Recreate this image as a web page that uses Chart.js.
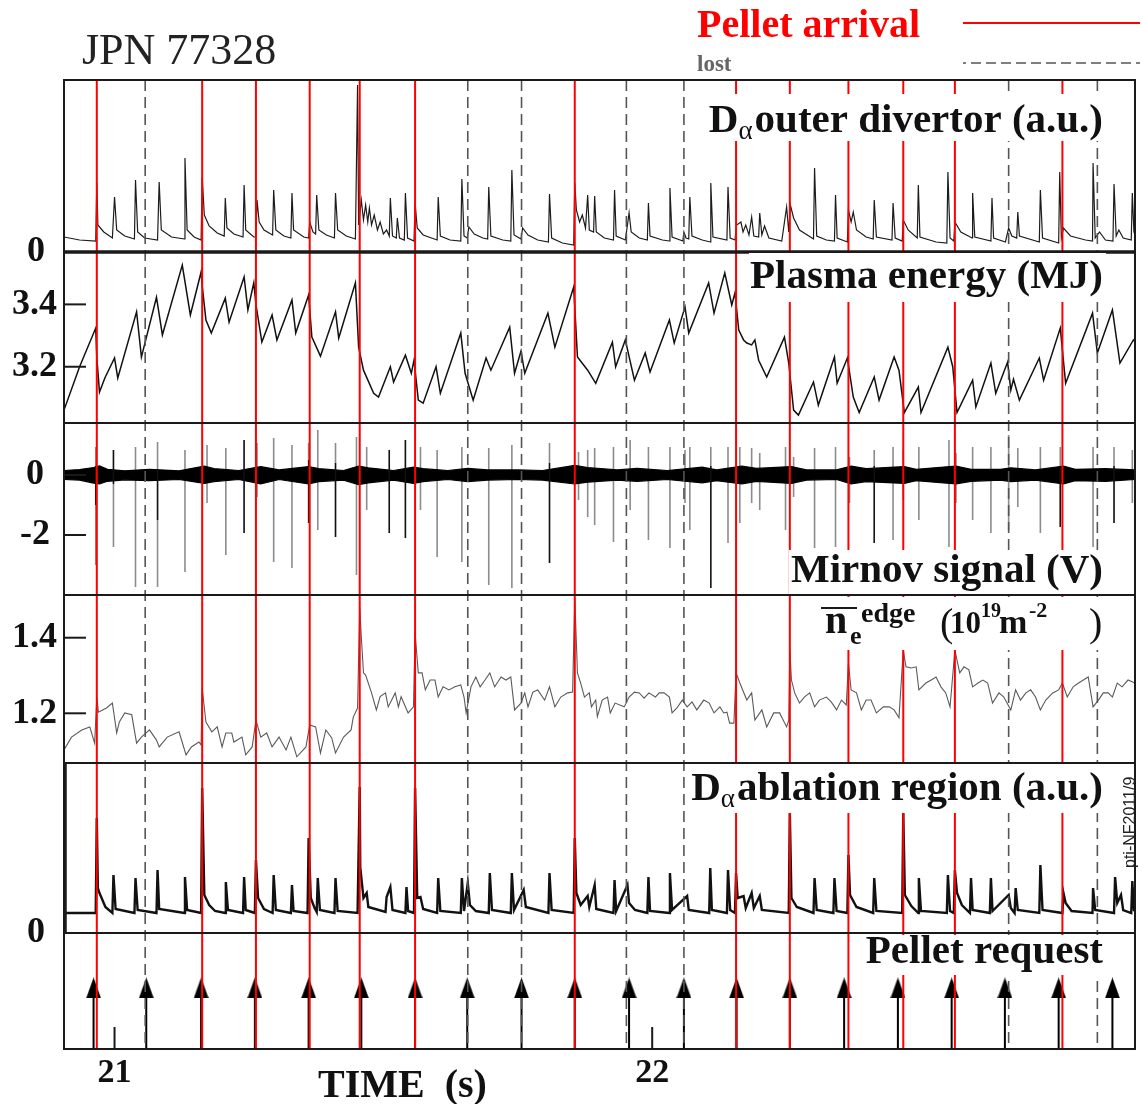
<!DOCTYPE html>
<html>
<head>
<meta charset="utf-8">
<title>JPN 77328 pellet ELM pacing</title>
<script src="https://cdn.jsdelivr.net/npm/chart.js@4.4.1/dist/chart.umd.min.js"></script>
<style>
  html, body { margin: 0; padding: 0; background: #fff; }
  #wrap { position: relative; width: 1142px; height: 1104px; }
</style>
</head>
<body>
<div id="wrap"><canvas id="shot"></canvas></div>
<script>
// time axis (s)
var timeRange = [20.906, 22.898];
var timeTicks = [21, 22];

// pellet timing (s)
var pelletRequest = [20.961, 21.059, 21.161, 21.261, 21.361, 21.459, 21.559, 21.656, 21.757, 21.856,
                     21.957, 22.059, 22.157, 22.256, 22.357, 22.457, 22.557, 22.656, 22.756, 22.856];
var pelletArrived = [20.967, 21.163, 21.263, 21.363, 21.456, 21.559, 21.856, 22.156, 22.256, 22.365, 22.467, 22.563, 22.763];
var pelletLost = [21.057, 21.657, 21.757, 21.952, 22.059, 22.663, 22.828];

// D-alpha outer divertor (a.u.)  [t, value]
var divertorSignal = [
  [20.906,1.5],[20.935,1.2],[20.965,1.1],[20.967,6.9],[20.969,2.7],[20.980,2.0],[20.996,1.4],
  [21.000,5.5],[21.004,2.2],[21.019,1.6],[21.037,1.3],[21.039,7.2],[21.043,2.0],[21.056,1.4],[21.080,1.2],
  [21.083,7.0],[21.087,2.2],[21.106,1.5],[21.130,1.3],[21.131,9.4],[21.135,2.2],[21.148,1.5],[21.161,1.2],
  [21.163,7.5],[21.167,3.7],[21.176,2.6],[21.191,1.9],[21.204,1.6],[21.206,5.4],[21.209,2.4],[21.222,1.8],[21.239,1.5],
  [21.241,6.7],[21.244,2.2],[21.259,1.5],[21.263,1.5],[21.265,5.2],[21.269,3.0],[21.278,2.2],[21.294,1.7],
  [21.296,6.2],[21.300,2.2],[21.315,1.6],[21.328,1.4],[21.330,5.9],[21.333,2.2],[21.352,1.5],[21.361,1.4],
  [21.363,3.0],[21.369,2.0],[21.374,1.8],[21.376,5.7],[21.380,2.2],[21.394,1.7],[21.409,1.4],
  [21.411,5.9],[21.415,2.2],[21.431,1.6],[21.448,1.3],[21.452,16.7],[21.454,2.7],[21.459,5.2],[21.463,3.2],
  [21.467,4.7],[21.471,3.0],[21.474,4.4],[21.478,2.7],[21.483,3.7],[21.489,2.2],[21.494,3.0],[21.500,1.8],
  [21.506,2.2],[21.511,1.6],[21.513,5.4],[21.517,1.6],[21.524,1.4],[21.526,3.4],[21.530,1.4],[21.539,1.2],
  [21.541,5.9],[21.545,1.4],[21.557,1.1],[21.559,4.9],[21.563,2.4],[21.574,1.7],[21.600,1.2],
  [21.602,5.5],[21.606,1.6],[21.624,1.2],[21.644,1.1],[21.646,7.3],[21.650,1.6],[21.656,1.4],[21.659,2.5],
  [21.669,1.8],[21.685,1.4],[21.694,1.3],[21.696,6.5],[21.700,1.6],[21.722,1.2],[21.737,1.1],
  [21.739,8.2],[21.743,1.7],[21.756,1.3],[21.759,2.4],[21.769,1.7],[21.787,1.2],[21.807,1.0],
  [21.809,5.8],[21.813,1.4],[21.833,0.9],[21.854,0.7],[21.856,6.9],[21.859,4.2],[21.865,3.0],[21.870,3.7],[21.876,2.4],
  [21.880,5.7],[21.883,2.2],[21.891,2.0],[21.893,5.6],[21.896,2.0],[21.911,1.4],[21.928,1.2],
  [21.930,6.2],[21.933,1.6],[21.950,1.2],[21.954,2.7],[21.957,3.9],[21.961,2.0],[21.976,1.4],[21.991,1.2],
  [21.993,4.9],[21.996,1.6],[22.019,1.2],[22.032,1.1],[22.033,6.4],[22.037,1.5],[22.057,1.1],[22.059,2.0],
  [22.063,1.4],[22.068,1.3],[22.070,5.5],[22.074,1.6],[22.093,1.2],[22.108,1.0],[22.109,6.9],[22.113,1.5],[22.139,1.2],
  [22.141,6.5],[22.145,1.4],[22.154,1.2],[22.157,2.7],[22.165,3.0],[22.169,2.0],[22.174,2.7],[22.180,1.7],
  [22.185,3.5],[22.189,1.6],[22.198,1.5],[22.200,3.9],[22.204,1.7],[22.209,2.6],[22.217,1.4],[22.241,1.1],
  [22.250,4.5],[22.254,2.0],[22.257,4.7],[22.263,3.4],[22.274,2.2],[22.300,1.3],[22.302,8.4],[22.306,1.6],
  [22.324,1.2],[22.339,1.1],[22.341,5.7],[22.344,1.4],[22.363,1.0],[22.365,4.2],[22.370,3.0],[22.374,4.0],
  [22.380,2.2],[22.398,1.5],[22.411,1.3],[22.413,5.2],[22.417,1.5],[22.446,1.2],[22.448,4.9],[22.452,1.4],[22.465,1.1],
  [22.467,3.2],[22.476,2.2],[22.493,1.4],[22.495,6.7],[22.498,1.5],[22.528,1.0],[22.548,0.9],
  [22.550,8.0],[22.554,1.4],[22.561,1.1],[22.563,3.0],[22.574,2.0],[22.595,1.4],[22.596,5.9],[22.600,1.5],[22.630,1.1],
  [22.632,5.4],[22.635,1.4],[22.657,1.0],[22.663,2.4],[22.669,1.6],[22.678,1.4],[22.680,4.0],[22.683,1.6],[22.720,1.0],
  [22.722,6.2],[22.726,1.4],[22.756,0.9],[22.758,8.0],[22.761,1.4],[22.765,2.4],[22.778,1.6],[22.806,1.2],[22.819,1.1],
  [22.820,8.9],[22.824,1.4],[22.832,2.0],[22.843,1.2],[22.857,1.1],[22.859,6.8],[22.863,1.6],[22.868,2.2],
  [22.876,1.4],[22.891,1.2],[22.893,5.9],[22.896,2.0],[22.898,1.7]
];

// plasma energy (MJ)
var plasmaEnergy = [
  [20.906,3.061],[20.935,3.200],[20.965,3.324],[20.967,3.230],[20.972,3.119],[20.982,3.164],[21.000,3.228],
  [21.006,3.164],[21.041,3.376],[21.050,3.231],[21.078,3.423],[21.089,3.302],[21.126,3.526],[21.141,3.366],
  [21.161,3.504],[21.163,3.460],[21.170,3.350],[21.180,3.308],[21.206,3.420],[21.213,3.343],[21.241,3.488],
  [21.248,3.382],[21.259,3.469],[21.263,3.400],[21.274,3.279],[21.293,3.366],[21.302,3.286],[21.330,3.414],
  [21.337,3.308],[21.361,3.430],[21.367,3.295],[21.383,3.234],[21.411,3.376],[21.417,3.292],[21.448,3.469],
  [21.454,3.263],[21.463,3.189],[21.482,3.115],[21.491,3.103],[21.513,3.200],[21.519,3.151],[21.541,3.237],
  [21.552,3.179],[21.557,3.221],[21.565,3.093],[21.574,3.083],[21.598,3.200],[21.606,3.115],[21.644,3.308],
  [21.652,3.179],[21.667,3.093],[21.691,3.228],[21.700,3.189],[21.735,3.327],[21.744,3.179],[21.756,3.250],
  [21.763,3.179],[21.806,3.372],[21.819,3.263],[21.854,3.456],[21.861,3.231],[21.880,3.189],[21.895,3.147],
  [21.926,3.279],[21.932,3.200],[21.950,3.286],[21.967,3.157],[21.987,3.244],[21.996,3.183],[22.032,3.350],
  [22.041,3.276],[22.061,3.392],[22.068,3.308],[22.105,3.469],[22.115,3.372],[22.135,3.501],[22.148,3.398],
  [22.154,3.437],[22.161,3.318],[22.170,3.286],[22.176,3.276],[22.185,3.270],[22.191,3.286],[22.198,3.221],
  [22.213,3.167],[22.246,3.295],[22.254,3.212],[22.263,3.061],[22.272,3.045],[22.300,3.151],[22.309,3.077],
  [22.339,3.231],[22.344,3.147],[22.363,3.228],[22.374,3.103],[22.385,3.053],[22.413,3.167],[22.422,3.093],
  [22.450,3.231],[22.459,3.189],[22.469,3.053],[22.495,3.135],[22.500,3.053],[22.550,3.263],[22.559,3.200],
  [22.567,3.053],[22.596,3.157],[22.602,3.071],[22.630,3.212],[22.639,3.115],[22.661,3.215],[22.667,3.125],
  [22.672,3.160],[22.683,3.093],[22.720,3.228],[22.728,3.157],[22.759,3.324],[22.769,3.147],[22.819,3.372],
  [22.828,3.244],[22.856,3.382],[22.870,3.212],[22.895,3.286],[22.898,3.280]
];

// Mirnov signal (V): background band [t, upper, lower] and ELM bursts [t, top, bottom]
var mirnovBand = [
  [20.906,0.15,-0.15],[20.935,0.18,-0.17],[20.961,0.25,-0.27],[20.972,0.30,-0.30],[20.987,0.19,-0.21],
  [21.019,0.14,-0.16],[21.065,0.19,-0.19],[21.120,0.14,-0.15],[21.167,0.30,-0.28],[21.185,0.21,-0.22],
  [21.231,0.15,-0.15],[21.272,0.28,-0.30],[21.306,0.17,-0.15],[21.361,0.28,-0.30],[21.380,0.21,-0.22],
  [21.426,0.15,-0.17],[21.454,0.30,-0.32],[21.472,0.24,-0.26],[21.519,0.15,-0.17],[21.556,0.26,-0.28],
  [21.574,0.21,-0.22],[21.620,0.15,-0.15],[21.657,0.22,-0.22],[21.694,0.17,-0.17],[21.750,0.17,-0.15],
  [21.796,0.15,-0.17],[21.856,0.32,-0.30],[21.880,0.25,-0.24],[21.935,0.17,-0.17],[21.972,0.22,-0.21],
  [22.028,0.15,-0.15],[22.093,0.26,-0.26],[22.120,0.17,-0.19],[22.167,0.30,-0.30],[22.194,0.22,-0.21],
  [22.259,0.28,-0.28],[22.287,0.17,-0.17],[22.343,0.17,-0.15],[22.370,0.30,-0.30],[22.398,0.21,-0.22],
  [22.469,0.28,-0.28],[22.491,0.19,-0.19],[22.565,0.30,-0.30],[22.593,0.19,-0.21],[22.648,0.19,-0.17],
  [22.667,0.24,-0.22],[22.713,0.17,-0.17],[22.765,0.30,-0.30],[22.787,0.19,-0.19],[22.843,0.21,-0.21],
  [22.898,0.17,-0.15]
];
var mirnovBursts = [
  [20.965,0.93,-3.0],[20.998,0.83,-2.4],[21.039,0.93,-3.73],[21.080,1.1,-3.73],[21.131,0.83,-3.23],
  [21.172,1.0,-0.93],[21.207,0.9,-2.67],[21.241,1.17,-1.93],[21.265,1.07,-0.73],[21.296,1.23,-2.9],
  [21.330,1.0,-3.1],[21.361,1.07,-1.6],[21.378,1.5,-1.83],[21.411,1.07,-2.07],[21.450,1.27,-3.33],
  [21.469,0.93,-1.17],[21.511,0.83,-1.93],[21.541,1.17,-2.1],[21.569,0.93,-1.17],[21.600,0.83,-2.73],
  [21.646,0.93,-2.9],[21.696,0.9,-3.67],[21.739,1.0,-3.77],[21.809,1.07,-2.93],[21.863,0.77,-0.83],
  [21.880,0.83,-1.4],[21.893,0.9,-1.67],[21.928,0.93,-2.23],[21.959,1.17,-1.17],[21.993,0.93,-2.17],
  [22.033,0.93,-2.43],[22.061,0.83,-0.93],[22.070,0.93,-1.83],[22.109,0.93,-3.77],[22.141,0.93,-2.27],
  [22.163,0.93,-1.6],[22.185,0.9,-0.93],[22.200,0.73,-1.17],[22.248,0.93,-1.83],[22.263,0.6,-0.73],
  [22.302,0.9,-2.43],[22.341,0.93,-2.4],[22.367,0.6,-0.93],[22.413,0.83,-2.27],[22.448,0.93,-2.17],
  [22.467,0.83,-0.83],[22.496,0.93,-1.5],[22.552,1.17,-2.4],[22.565,0.73,-0.93],[22.596,0.93,-1.5],
  [22.630,0.93,-1.93],[22.663,1.33,-1.83],[22.680,0.9,-1.07],[22.722,0.93,-1.93],[22.759,0.93,-1.73],
  [22.820,0.93,-2.4],[22.859,0.93,-1.6],[22.893,0.83,-0.93]
];
var mirnovCores = [
  [20.965,0.3,-1.0],[20.998,0.83,-0.3],[21.080,0.2,-1.5],[21.241,1.17,-1.93],[21.361,0.5,-1.6],
  [21.411,0.4,-2.07],[21.511,0.83,-1.93],[21.541,1.17,-2.1],[21.809,0.4,-2.93],[22.109,0.3,-3.77],
  [22.413,0.3,-2.27],[22.759,0.3,-1.73],[22.859,0.3,-1.6]
];

// edge line-integrated density (1e19 m^-2)
var edgeDensity = [
  [20.906,1.103],[20.920,1.137],[20.939,1.156],[20.954,1.164],[20.963,1.121],[20.967,1.243],[20.970,1.203],
  [20.985,1.214],[20.996,1.227],[21.004,1.148],[21.009,1.177],[21.019,1.201],[21.032,1.196],[21.041,1.121],
  [21.050,1.137],[21.065,1.156],[21.078,1.129],[21.083,1.111],[21.098,1.137],[21.120,1.151],[21.133,1.090],
  [21.143,1.111],[21.157,1.124],[21.161,1.116],[21.163,1.267],[21.170,1.177],[21.181,1.151],[21.191,1.164],
  [21.200,1.111],[21.207,1.148],[21.218,1.148],[21.222,1.124],[21.237,1.137],[21.244,1.090],[21.256,1.111],
  [21.263,1.182],[21.272,1.137],[21.283,1.148],[21.293,1.111],[21.306,1.137],[21.319,1.103],[21.328,1.137],
  [21.339,1.085],[21.356,1.111],[21.363,1.169],[21.374,1.164],[21.383,1.095],[21.393,1.156],[21.404,1.135],
  [21.411,1.095],[21.426,1.137],[21.440,1.156],[21.444,1.190],[21.452,1.214],[21.456,1.479],[21.459,1.402],
  [21.463,1.307],[21.467,1.301],[21.478,1.254],[21.487,1.209],[21.494,1.244],[21.504,1.254],[21.509,1.217],
  [21.522,1.254],[21.528,1.217],[21.533,1.244],[21.546,1.201],[21.556,1.217],[21.559,1.412],[21.565,1.307],
  [21.572,1.307],[21.578,1.262],[21.587,1.288],[21.596,1.288],[21.602,1.243],[21.611,1.270],[21.622,1.262],
  [21.633,1.270],[21.644,1.275],[21.650,1.243],[21.654,1.201],[21.663,1.270],[21.672,1.296],[21.680,1.270],
  [21.689,1.288],[21.698,1.307],[21.707,1.270],[21.719,1.296],[21.728,1.288],[21.737,1.296],[21.744,1.209],
  [21.756,1.227],[21.763,1.254],[21.769,1.217],[21.778,1.256],[21.787,1.262],[21.800,1.235],[21.809,1.270],
  [21.819,1.217],[21.830,1.243],[21.843,1.254],[21.852,1.256],[21.856,1.505],[21.861,1.307],[21.867,1.280],
  [21.874,1.243],[21.883,1.254],[21.887,1.217],[21.895,1.235],[21.898,1.191],[21.907,1.235],[21.917,1.243],
  [21.922,1.201],[21.931,1.227],[21.948,1.217],[21.957,1.243],[21.967,1.256],[21.976,1.254],[21.985,1.240],
  [21.994,1.254],[22.006,1.243],[22.013,1.254],[22.022,1.254],[22.032,1.243],[22.037,1.201],[22.046,1.214],
  [22.056,1.235],[22.065,1.217],[22.074,1.230],[22.083,1.209],[22.096,1.235],[22.106,1.227],[22.115,1.201],
  [22.126,1.217],[22.133,1.201],[22.139,1.203],[22.144,1.174],[22.152,1.174],[22.156,1.307],[22.163,1.280],
  [22.176,1.235],[22.185,1.254],[22.191,1.182],[22.204,1.209],[22.213,1.164],[22.226,1.201],[22.237,1.201],
  [22.250,1.164],[22.254,1.182],[22.256,1.367],[22.259,1.288],[22.265,1.254],[22.274,1.227],[22.283,1.243],
  [22.293,1.254],[22.302,1.217],[22.311,1.235],[22.324,1.243],[22.333,1.230],[22.343,1.209],[22.352,1.235],
  [22.361,1.222],[22.365,1.333],[22.370,1.262],[22.380,1.254],[22.389,1.209],[22.398,1.235],[22.407,1.235],
  [22.417,1.201],[22.430,1.217],[22.441,1.217],[22.450,1.209],[22.459,1.188],[22.467,1.367],[22.472,1.323],
  [22.482,1.320],[22.491,1.323],[22.496,1.262],[22.509,1.280],[22.519,1.288],[22.528,1.296],[22.537,1.270],
  [22.546,1.254],[22.554,1.217],[22.563,1.367],[22.572,1.307],[22.580,1.323],[22.589,1.315],[22.596,1.270],
  [22.606,1.280],[22.615,1.288],[22.624,1.280],[22.633,1.227],[22.645,1.254],[22.654,1.243],[22.667,1.209],
  [22.676,1.262],[22.685,1.235],[22.695,1.254],[22.704,1.262],[22.713,1.243],[22.722,1.209],[22.732,1.235],
  [22.745,1.254],[22.756,1.262],[22.763,1.280],[22.772,1.243],[22.783,1.270],[22.793,1.280],[22.802,1.288],
  [22.811,1.296],[22.820,1.217],[22.830,1.235],[22.839,1.254],[22.848,1.254],[22.856,1.243],[22.865,1.280],
  [22.874,1.270],[22.885,1.288],[22.898,1.280]
];

// D-alpha ablation region (a.u.)
var ablationSignal = [
  [20.906,2.0],[20.965,2.0],[20.967,11.5],[20.969,4.5],[20.972,4.0],[20.983,2.6],[20.996,2.0],[20.998,5.8],
  [21.002,2.4],[21.037,2.0],[21.039,5.5],[21.043,2.3],[21.078,2.0],[21.080,6.3],[21.083,2.4],[21.130,2.0],
  [21.131,5.6],[21.135,2.3],[21.161,2.0],[21.163,14.5],[21.167,3.8],[21.176,2.8],[21.187,2.2],[21.206,2.0],
  [21.207,5.1],[21.211,2.3],[21.239,2.0],[21.241,5.6],[21.244,2.3],[21.261,2.0],[21.263,7.3],[21.267,3.5],
  [21.278,2.4],[21.294,2.0],[21.296,5.8],[21.300,2.3],[21.328,2.0],[21.330,4.8],[21.333,2.2],[21.359,2.0],
  [21.361,9.5],[21.365,3.5],[21.372,2.5],[21.376,2.1],[21.378,5.5],[21.382,2.3],[21.409,2.0],[21.411,5.5],
  [21.415,2.2],[21.452,2.0],[21.456,14.6],[21.457,6.6],[21.463,3.5],[21.469,4.0],[21.472,2.6],[21.504,2.1],
  [21.506,3.6],[21.513,4.6],[21.517,2.3],[21.541,2.0],[21.543,4.6],[21.546,2.2],[21.557,2.0],[21.559,14.5],
  [21.563,3.5],[21.569,3.6],[21.574,2.4],[21.600,2.0],[21.602,5.5],[21.606,2.2],[21.644,2.0],[21.646,5.5],
  [21.650,2.2],[21.657,5.0],[21.661,2.8],[21.672,2.2],[21.696,2.0],[21.698,6.0],[21.702,2.3],[21.737,2.0],
  [21.739,6.0],[21.743,2.3],[21.761,4.3],[21.765,2.6],[21.807,2.0],[21.809,6.0],[21.813,2.3],[21.854,2.0],
  [21.856,9.5],[21.859,4.0],[21.867,2.8],[21.880,3.7],[21.883,2.6],[21.893,4.8],[21.896,2.4],[21.928,2.0],
  [21.930,5.3],[21.933,2.2],[21.954,4.8],[21.957,3.0],[21.968,2.3],[21.991,2.0],[21.993,5.6],[21.996,2.2],
  [22.032,2.0],[22.033,6.0],[22.037,2.3],[22.065,3.7],[22.068,2.3],[22.106,2.0],[22.108,6.5],[22.111,2.3],
  [22.139,2.0],[22.141,6.3],[22.145,2.3],[22.154,2.0],[22.156,6.0],[22.159,3.5],[22.170,3.7],[22.174,2.5],
  [22.185,4.0],[22.189,2.5],[22.200,3.7],[22.204,2.3],[22.254,2.0],[22.256,12.0],[22.259,3.5],[22.269,2.6],
  [22.300,2.0],[22.302,5.5],[22.306,2.3],[22.337,2.0],[22.339,5.5],[22.343,2.2],[22.363,2.0],[22.365,7.8],
  [22.368,3.8],[22.380,2.6],[22.411,2.0],[22.413,5.5],[22.417,2.2],[22.465,2.0],[22.467,12.0],[22.470,3.8],
  [22.482,2.7],[22.495,2.0],[22.496,5.5],[22.500,2.2],[22.548,2.0],[22.550,5.8],[22.554,2.2],[22.561,2.0],
  [22.563,6.3],[22.567,4.0],[22.576,2.8],[22.591,2.0],[22.593,5.5],[22.596,2.3],[22.628,2.0],[22.630,5.5],
  [22.633,2.2],[22.663,3.8],[22.667,2.5],[22.674,2.0],[22.676,4.5],[22.680,2.3],[22.720,2.0],[22.722,6.8],
  [22.726,2.3],[22.763,2.0],[22.765,4.0],[22.769,3.0],[22.780,2.2],[22.819,2.0],[22.820,4.5],[22.824,2.3],
  [22.859,2.0],[22.861,5.6],[22.865,3.0],[22.872,3.8],[22.876,2.3],[22.891,2.0],[22.893,5.2],[22.896,2.3],
  [22.898,2.2]
];

var serif = '"Liberation Serif", "Times New Roman", serif';
var requestShaftTop = 0.45;
var requestHeadLevel = 0.526;

function pairs(list) {
  return list.map(function (p) { return {x: p[0], y: p[1]}; });
}
function sticks(list) {
  var out = [];
  list.forEach(function (s) {
    out.push({x: s[0], y: s[1]}, {x: s[0], y: s[2]}, {x: s[0], y: null});
  });
  return out;
}

// arrowhead glyph used as point style on the request panel
var arrowHead = document.createElement('canvas');
arrowHead.width = 15;
arrowHead.height = 21;
(function () {
  var c = arrowHead.getContext('2d');
  c.fillStyle = '#000';
  c.beginPath();
  c.moveTo(7.5, 0);
  c.lineTo(15, 21);
  c.lineTo(0, 21);
  c.closePath();
  c.fill();
})();

function panelAxis(order, weight, min, max, ticks, pad) {
  return {
    type: 'linear',
    position: 'left',
    stack: 'panels',
    stackWeight: weight,
    weight: order,
    min: min,
    max: max,
    afterBuildTicks: function (s) { s.ticks = ticks.map(function (v) { return {value: v}; }); },
    afterFit: function (s) { s.width = 64; },
    grid: {display: false, drawTicks: false},
    border: {display: false},
    ticks: {
      crossAlign: 'center',
      padding: pad,
      autoSkip: false,
      color: '#111',
      font: {family: serif, size: 36, weight: 'bold'},
      callback: function (v) { return String(v); }
    }
  };
}

var panelIds = ['yDiv', 'yEnergy', 'yMirnov', 'yNe', 'yAbl', 'yReq'];

// panel titles: white box, right edge, baseline, text runs
var panelTitles = [
  {box: [704, 94, 1106, 141], right: 1103, base: 132, runs: [
    {t: 'D', f: 'bold 41px '}, {t: '\u03b1', f: '27px ', dy: 7}, {t: 'outer divertor (a.u.)', f: 'bold 41px ', dx: 2}]},
  {box: [749, 253, 1106, 302], right: 1103, base: 288, runs: [{t: 'Plasma energy (MJ)', f: 'bold 41px '}]},
  {box: [789, 550, 1106, 594], right: 1103, base: 582, runs: [{t: 'Mirnov signal (V)', f: 'bold 41px '}]},
  {box: [685, 764, 1106, 813], right: 1103, base: 800, runs: [
    {t: 'D', f: 'bold 41px '}, {t: '\u03b1', f: '27px ', dy: 7}, {t: 'ablation region (a.u.)', f: 'bold 41px ', dx: 2}]},
  {box: [859, 935, 1106, 975], right: 1103, base: 963, runs: [{t: 'Pellet request', f: 'bold 41px '}]}
];

function drawRuns(ctx, title) {
  var total = 0;
  title.runs.forEach(function (r) {
    ctx.font = r.f + serif;
    total += ctx.measureText(r.t).width + (r.dx || 0);
  });
  var x = title.right - total;
  title.runs.forEach(function (r) {
    ctx.font = r.f + serif;
    x += r.dx || 0;
    ctx.fillText(r.t, x, title.base + (r.dy || 0));
    x += ctx.measureText(r.t).width;
  });
}

var decor = {
  id: 'decor',
  afterDatasetsDraw: function (chart) {
    var ctx = chart.ctx, area = chart.chartArea, xs = chart.scales.x;
    ctx.save();

    // pellet arrival / lost markers across every panel
    ctx.strokeStyle = '#ff0000';
    ctx.lineWidth = 2;
    pelletArrived.forEach(function (t) {
      var px = xs.getPixelForValue(t);
      ctx.beginPath(); ctx.moveTo(px, area.top); ctx.lineTo(px, area.bottom); ctx.stroke();
    });
    ctx.strokeStyle = '#555';
    ctx.lineWidth = 1.6;
    ctx.setLineDash([11, 6]);
    pelletLost.forEach(function (t) {
      var px = xs.getPixelForValue(t);
      ctx.beginPath(); ctx.moveTo(px, area.top); ctx.lineTo(px, area.bottom); ctx.stroke();
    });
    ctx.setLineDash([]);

    // panel frames and inward ticks
    ctx.strokeStyle = '#1a1a1a';
    ctx.lineWidth = 2;
    panelIds.forEach(function (id) {
      var s = chart.scales[id];
      ctx.strokeRect(area.left, s.top, area.right - area.left, s.bottom - s.top);
      s.ticks.forEach(function (tk) {
        var py = s.getPixelForValue(tk.value);
        if (py <= s.top + 2 || py >= s.bottom - 2) return;
        ctx.beginPath(); ctx.moveTo(area.left, py); ctx.lineTo(area.left + 22, py); ctx.stroke();
      });
    });
    xs.ticks.forEach(function (tk) {
      var px = xs.getPixelForValue(tk.value);
      ctx.beginPath(); ctx.moveTo(px, area.bottom); ctx.lineTo(px, area.bottom - 22); ctx.stroke();
    });
    ctx.lineWidth = 3.5;
    var sd = chart.scales.yDiv, sa = chart.scales.yAbl;
    ctx.beginPath(); ctx.moveTo(area.left, sd.bottom); ctx.lineTo(area.right, sd.bottom); ctx.stroke();
    ctx.beginPath(); ctx.moveTo(area.left + 1, sa.top); ctx.lineTo(area.left + 1, sa.bottom); ctx.stroke();

    // panel titles
    ctx.fillStyle = '#fff';
    panelTitles.forEach(function (p) {
      ctx.fillRect(p.box[0], p.box[1], p.box[2] - p.box[0], p.box[3] - p.box[1]);
    });
    ctx.fillRect(817, 597, 289, 53);
    ctx.fillStyle = '#111';
    ctx.textBaseline = 'alphabetic';
    ctx.textAlign = 'left';
    panelTitles.forEach(function (p) { drawRuns(ctx, p); });

    // edge density title with overline, sub- and superscripts
    var neRuns = [
      ['n', 'bold 40px ', 825, 633], ['e', 'bold 26px ', 850, 644], ['edge', 'bold 28px ', 861, 622],
      ['(', '40px ', 940, 636], ['10', 'bold 31px ', 950, 633], ['19', 'bold 20px ', 981, 617],
      ['m', 'bold 34px ', 999, 633], ['-2', 'bold 22px ', 1029, 617], [')', '40px ', 1089, 636]
    ];
    neRuns.forEach(function (r) { ctx.font = r[1] + serif; ctx.fillText(r[0], r[2], r[3]); });
    ctx.lineWidth = 2;
    ctx.beginPath(); ctx.moveTo(821, 608); ctx.lineTo(857, 608); ctx.stroke();

    ctx.restore();
  },
  afterDraw: function (chart) {
    var ctx = chart.ctx;
    ctx.save();
    ctx.textBaseline = 'alphabetic';
    ctx.textAlign = 'left';

    ctx.fillStyle = '#222';
    ctx.font = '44px ' + serif;
    ctx.fillText('JPN 77328', 82, 64);

    ctx.fillStyle = '#ff0000';
    ctx.font = 'bold 40px ' + serif;
    ctx.fillText('Pellet arrival', 697, 37);
    ctx.fillStyle = '#666';
    ctx.font = 'bold 23px ' + serif;
    ctx.fillText('lost', 697, 71);

    ctx.strokeStyle = '#ff0000';
    ctx.lineWidth = 2;
    ctx.beginPath(); ctx.moveTo(963, 23); ctx.lineTo(1140, 23); ctx.stroke();
    ctx.strokeStyle = '#555';
    ctx.lineWidth = 1.6;
    ctx.setLineDash([10, 5]);
    ctx.lineDashOffset = 7;
    ctx.beginPath(); ctx.moveTo(963, 63); ctx.lineTo(1140, 63); ctx.stroke();
    ctx.setLineDash([]);

    ctx.fillStyle = '#111';
    ctx.font = 'bold 40px ' + serif;
    ctx.fillText('TIME  (s)', 318, 1097);

    ctx.translate(1135, 868);
    ctx.rotate(-Math.PI / 2);
    ctx.fillStyle = '#222';
    ctx.font = '16px "Liberation Sans", Arial, sans-serif';
    ctx.fillText('pti-NF2011/9', 0, 0);
    ctx.restore();
  }
};

var lineBase = {pointRadius: 0, tension: 0, fill: false, spanGaps: false};
function series(extra) { return Object.assign({}, lineBase, extra); }

new Chart(document.getElementById('shot'), {
  type: 'line',
  data: {
    datasets: [
      series({label: 'Mirnov core', yAxisID: 'yMirnov', data: sticks(mirnovCores), borderColor: '#111', borderWidth: 1.4}),
      series({label: 'Mirnov upper', yAxisID: 'yMirnov', data: pairs(mirnovBand.map(function (b) { return [b[0], b[1]]; })),
              borderColor: '#000', borderWidth: 1.2, fill: '+1', backgroundColor: '#000'}),
      series({label: 'Mirnov lower', yAxisID: 'yMirnov', data: pairs(mirnovBand.map(function (b) { return [b[0], b[2]]; })),
              borderColor: '#000', borderWidth: 1.2}),
      series({label: 'Mirnov bursts', yAxisID: 'yMirnov', data: sticks(mirnovBursts), borderColor: '#8c8c8c', borderWidth: 1.6}),
      series({label: 'Dalpha divertor', yAxisID: 'yDiv', data: pairs(divertorSignal), borderColor: '#1c1c1c', borderWidth: 1.2}),
      series({label: 'Plasma energy', yAxisID: 'yEnergy', data: pairs(plasmaEnergy), borderColor: '#111', borderWidth: 1.5}),
      series({label: 'Edge density', yAxisID: 'yNe', data: pairs(edgeDensity), borderColor: '#5a5a5a', borderWidth: 1.1}),
      series({label: 'Dalpha ablation', yAxisID: 'yAbl', data: pairs(ablationSignal), borderColor: '#111', borderWidth: 2.4}),
      series({label: 'Request shafts', yAxisID: 'yReq',
              data: sticks(pelletRequest.map(function (t) { return [t, 0, requestShaftTop]; })),
              borderColor: '#000', borderWidth: 2}),
      {label: 'Request heads', yAxisID: 'yReq', showLine: false,
       data: pelletRequest.map(function (t) { return {x: t, y: requestHeadLevel}; }),
       pointStyle: arrowHead, pointRadius: 6, pointHoverRadius: 6}
    ]
  },
  options: {
    responsive: true,
    maintainAspectRatio: false,
    devicePixelRatio: 1,
    animation: false,
    events: [],
    layout: {padding: {top: 80, right: 2, left: 0, bottom: 0}},
    plugins: {legend: {display: false}, tooltip: {enabled: false}},
    scales: {
      x: {
        type: 'linear',
        position: 'bottom',
        min: timeRange[0],
        max: timeRange[1],
        afterBuildTicks: function (s) { s.ticks = timeTicks.map(function (v) { return {value: v}; }); },
        afterFit: function (s) { s.height = 55; },
        grid: {display: false, drawTicks: false},
        border: {display: false},
        ticks: {padding: 4, maxRotation: 0, autoSkip: false, color: '#111',
                font: {family: serif, size: 34, weight: 'bold'},
                callback: function (v) { return String(v); }}
      },
      yDiv: panelAxis(6, 172, 0, 17.2, [0], 19),
      yEnergy: panelAxis(5, 171, 3.0196, 3.568, [3.2, 3.4], 7),
      yMirnov: panelAxis(4, 172, -4.0, 1.733, [-2, 0], 14),
      yNe: panelAxis(3, 168, 1.0685, 1.513, [1.2, 1.4], 7),
      yAbl: panelAxis(2, 170, 0, 17.0, [0], 19),
      yReq: panelAxis(1, 116, 0, 1, [], 0)
    }
  },
  plugins: [decor]
});
</script>
</body>
</html>
